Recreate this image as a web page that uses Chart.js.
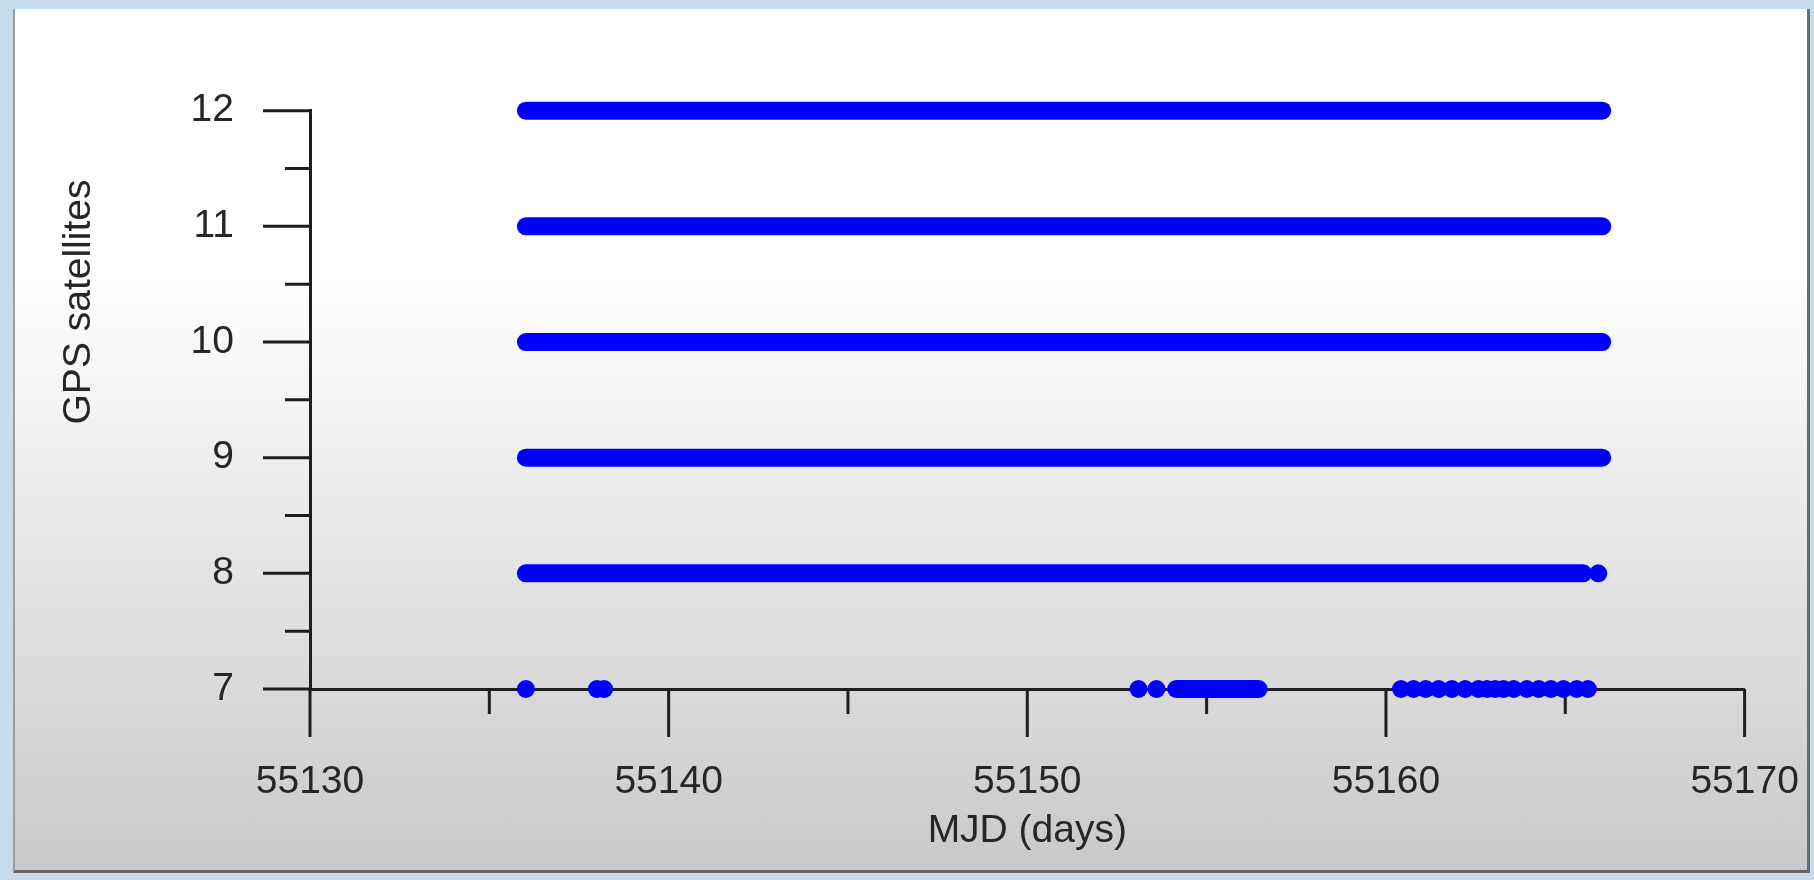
<!DOCTYPE html>
<html>
<head>
<meta charset="utf-8">
<title>GPS satellites</title>
<script src="https://cdn.jsdelivr.net/npm/chart.js@4.4.1/dist/chart.umd.min.js"></script>
<style>
  html, body { margin: 0; padding: 0; }
  body { width: 1814px; height: 880px; background: #c5dcea; position: relative; overflow: hidden; }
  .panel {
    position: absolute; left: 13px; top: 9px; width: 1792px; height: 861px;
    background: linear-gradient(to bottom, #ffffff 0%, #ffffff 31%, #c9c9c9 100%);
    border-left: 2px solid #9c9c9c; border-right: 3px solid #6a6a6a; border-bottom: 3px solid #626262;
  }
  #satChart { position: absolute; left: 0; top: 0; }
</style>
</head>
<body>
<div class="panel"></div>
<canvas id="satChart" width="1814" height="880"></canvas>
<script>
// GPS satellites vs MJD
const xTicks = [55130, 55140, 55150, 55160, 55170];
const xMinorTicks = [55135, 55145, 55155, 55165];
const yTicks = [7, 8, 9, 10, 11, 12];
const yMinorTicks = [7.5, 8.5, 9.5, 10.5, 11.5];

// continuous runs of epochs (start / end MJD for each satellite count)
const runLevel = [12, 11, 10, 9, 8, 7];
const runStart = [55136.02, 55136.02, 55136.02, 55136.02, 55136.02, 55154.15];
const runEnd = [55166.03, 55166.03, 55166.03, 55166.03, 55165.5, 55156.45];

// isolated epochs
const dotMjd = [55165.92, 55136.02, 55138.0, 55138.2, 55153.1, 55153.6,
  55160.42, 55160.77, 55161.11, 55161.47, 55161.84, 55162.21, 55162.58, 55162.82,
  55163.05, 55163.28, 55163.56, 55163.93, 55164.26, 55164.6, 55164.95, 55165.32, 55165.63];
const dotSats = [8, 7, 7, 7, 7, 7,
  7, 7, 7, 7, 7, 7, 7, 7,
  7, 7, 7, 7, 7, 7, 7, 7, 7];

const yTitle = 'GPS satellites';
const xTitle = 'MJD (days)';

document.addEventListener('DOMContentLoaded', function () {
    const blue = '#0000ff';
    const axisColor = '#1e1e1e';
    const textColor = '#262626';

    Chart.defaults.font.family = "'Liberation Sans', Arial, sans-serif";
    Chart.defaults.font.size = 39;
    Chart.defaults.color = textColor;

    const datasets = runLevel.map((lvl, i) => ({
        type: 'line',
        data: [{x: runStart[i], y: lvl}, {x: runEnd[i], y: lvl}],
        borderColor: blue,
        borderWidth: 18,
        borderCapStyle: 'round',
        pointRadius: 0,
        fill: false,
        clip: false
    }));
    datasets.push({
        type: 'scatter',
        data: dotMjd.map((m, i) => ({x: m, y: dotSats[i]})),
        backgroundColor: blue,
        pointRadius: 9,
        pointBorderWidth: 0,
        clip: false
    });

    // tick marks: long majors, short minors, drawn from the scales
    const tickMarks = {
        id: 'tickMarks',
        beforeDatasetsDraw(chart) {
            const {ctx, scales: {x, y}} = chart;
            ctx.save();
            ctx.strokeStyle = axisColor;
            ctx.lineWidth = 3;
            ctx.beginPath();
            const yAxisX = x.getPixelForValue(xTicks[0]);
            const xAxisY = y.getPixelForValue(yTicks[0]);
            yTicks.forEach(v => { const p = y.getPixelForValue(v); ctx.moveTo(yAxisX - 47, p); ctx.lineTo(yAxisX, p); });
            yMinorTicks.forEach(v => { const p = y.getPixelForValue(v); ctx.moveTo(yAxisX - 25, p); ctx.lineTo(yAxisX, p); });
            xTicks.forEach(v => { const p = x.getPixelForValue(v); ctx.moveTo(p, xAxisY); ctx.lineTo(p, xAxisY + 48); });
            xMinorTicks.forEach(v => { const p = x.getPixelForValue(v); ctx.moveTo(p, xAxisY); ctx.lineTo(p, xAxisY + 25); });
            ctx.stroke();
            ctx.restore();
        },
        afterDraw(chart) {
            const {ctx} = chart;
            ctx.save();
            ctx.fillStyle = textColor;
            ctx.font = "39px 'Liberation Sans', Arial, sans-serif";
            ctx.textAlign = 'center';
            ctx.textBaseline = 'middle';
            ctx.translate(79, 302);
            ctx.rotate(-Math.PI / 2);
            ctx.fillText(yTitle, 0, 0);
            ctx.restore();
        }
    };

    const config = {
        type: 'scatter',
        data: { datasets: datasets },
        options: {
            responsive: false,
            animation: false,
            devicePixelRatio: 1,
            layout: {
                padding: { left: 0, top: 110.7, right: 69.4, bottom: 0 }
            },
            plugins: {
                legend: { display: false },
                tooltip: { enabled: false }
            },
            scales: {
                x: {
                    type: 'linear',
                    min: 55130,
                    max: 55170,
                    afterFit: scale => {
                        scale.height = 191;
                        scale.paddingLeft = 0;
                        scale.paddingRight = 0;
                    },
                    afterBuildTicks: scale => { scale.ticks = xTicks.map(v => ({value: v})); },
                    grid: { display: false, drawTicks: false },
                    border: { display: true, color: axisColor, width: 3 },
                    ticks: {
                        padding: 70,
                        maxRotation: 0,
                        callback: v => String(v)
                    },
                    title: {
                        display: true,
                        text: xTitle,
                        padding: { top: 0, bottom: 25 }
                    }
                },
                y: {
                    type: 'linear',
                    min: 7,
                    max: 12,
                    afterFit: scale => {
                        scale.width = 310;
                        scale.paddingTop = 0;
                        scale.paddingBottom = 0;
                    },
                    afterBuildTicks: scale => { scale.ticks = yTicks.map(v => ({value: v})); },
                    grid: { display: false, drawTicks: false },
                    border: { display: true, color: axisColor, width: 3 },
                    ticks: {
                        padding: 76,
                        callback: v => String(v)
                    }
                }
            }
        },
        plugins: [tickMarks]
    };

    const myChart = new Chart(
        document.getElementById('satChart'),
        config
    );
});
</script>
</body>
</html>
